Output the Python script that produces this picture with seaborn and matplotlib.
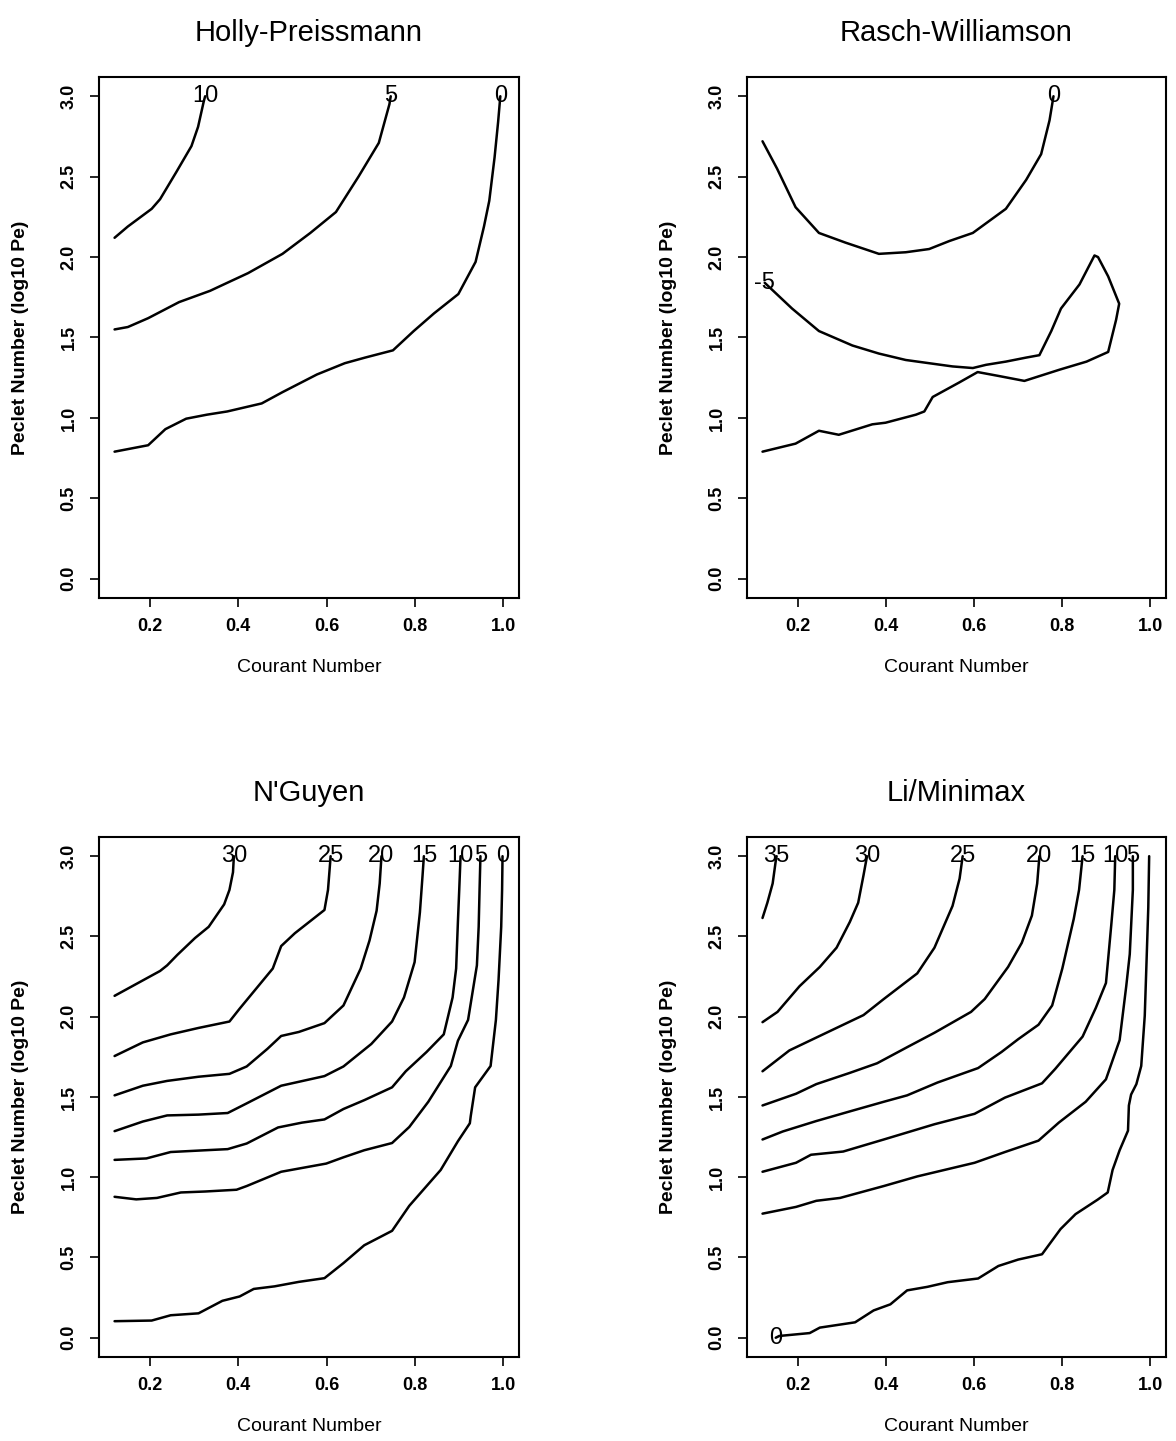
import pandas as pd
import seaborn as sns
import matplotlib.pyplot as plt

# contour lines (Courant number, log10 Peclet)
hp_10_x = [0.12, 0.15, 0.204, 0.223, 0.26, 0.294, 0.309, 0.322, 0.325]
hp_10_y = [2.12, 2.19, 2.30, 2.36, 2.53, 2.69, 2.81, 2.97, 3.0]
hp_5_x = [0.12, 0.15, 0.196, 0.266, 0.336, 0.375, 0.422, 0.50, 0.563, 0.621, 0.672, 0.718, 0.73, 0.742, 0.745]
hp_5_y = [1.55, 1.565, 1.62, 1.72, 1.79, 1.84, 1.90, 2.02, 2.15, 2.28, 2.50, 2.71, 2.83, 2.95, 3.0]
hp_0_x = [0.12, 0.196, 0.235, 0.282, 0.329, 0.375, 0.453, 0.50, 0.578, 0.641, 0.687, 0.75, 0.797, 0.843,
          0.898, 0.937, 0.956, 0.968, 0.98, 0.988, 0.993]
hp_0_y = [0.79, 0.83, 0.93, 0.995, 1.02, 1.04, 1.09, 1.16, 1.27, 1.34, 1.375, 1.42, 1.54, 1.65,
          1.77, 1.97, 2.19, 2.35, 2.62, 2.84, 3.0]

rw_0_x = [0.12, 0.153, 0.195, 0.248, 0.308, 0.384, 0.445, 0.498, 0.544, 0.597, 0.672, 0.718, 0.752, 0.771, 0.78]
rw_0_y = [2.72, 2.55, 2.31, 2.15, 2.09, 2.02, 2.03, 2.05, 2.10, 2.15, 2.30, 2.48, 2.64, 2.85, 3.0]
rw_m5_x = [0.125, 0.187, 0.248, 0.324, 0.384, 0.445, 0.498, 0.551, 0.597, 0.627, 0.672, 0.718, 0.748,
           0.775, 0.797, 0.839, 0.873, 0.881, 0.904, 0.929, 0.922, 0.904, 0.855, 0.794, 0.714, 0.657,
           0.608, 0.566, 0.506, 0.487, 0.468, 0.399, 0.369, 0.293, 0.248, 0.195, 0.12]
rw_m5_y = [1.84, 1.68, 1.54, 1.45, 1.40, 1.36, 1.34, 1.32, 1.31, 1.33, 1.35, 1.375, 1.39,
           1.54, 1.68, 1.83, 2.01, 2.00, 1.88, 1.71, 1.61, 1.41, 1.35, 1.30, 1.23, 1.26,
           1.285, 1.22, 1.13, 1.04, 1.02, 0.97, 0.96, 0.895, 0.92, 0.84, 0.79]

ng_30_x = [0.12, 0.223, 0.239, 0.262, 0.302, 0.333, 0.368, 0.38, 0.388, 0.39]
ng_30_y = [2.13, 2.285, 2.32, 2.385, 2.49, 2.56, 2.70, 2.79, 2.90, 3.0]
ng_25_x = [0.12, 0.184, 0.247, 0.31, 0.38, 0.403, 0.442, 0.478, 0.497, 0.528, 0.595, 0.603, 0.609]
ng_25_y = [1.755, 1.84, 1.89, 1.93, 1.97, 2.05, 2.18, 2.30, 2.44, 2.52, 2.665, 2.79, 3.0]
ng_20_x = [0.12, 0.184, 0.239, 0.31, 0.38, 0.419, 0.466, 0.497, 0.537, 0.595, 0.638, 0.677, 0.697, 0.713, 0.72, 0.724]
ng_20_y = [1.51, 1.57, 1.60, 1.626, 1.644, 1.69, 1.80, 1.88, 1.905, 1.96, 2.07, 2.30, 2.475, 2.66, 2.83, 3.0]
ng_15_x = [0.12, 0.184, 0.239, 0.31, 0.376, 0.419, 0.497, 0.595, 0.638, 0.701, 0.748, 0.775, 0.799, 0.811, 0.817, 0.82]
ng_15_y = [1.287, 1.347, 1.385, 1.39, 1.40, 1.46, 1.57, 1.63, 1.69, 1.83, 1.97, 2.12, 2.34, 2.65, 2.88, 3.0]
ng_10_x = [0.12, 0.192, 0.247, 0.325, 0.376, 0.419, 0.49, 0.544, 0.595, 0.638, 0.685, 0.748, 0.779, 0.826,
           0.865, 0.885, 0.893, 0.897, 0.90, 0.903]
ng_10_y = [1.108, 1.117, 1.157, 1.168, 1.175, 1.21, 1.31, 1.34, 1.36, 1.425, 1.48, 1.56, 1.66, 1.78,
           1.89, 2.12, 2.30, 2.59, 2.79, 3.0]
ng_5_x = [0.12, 0.169, 0.216, 0.27, 0.325, 0.396, 0.419, 0.497, 0.599, 0.638, 0.685, 0.748, 0.787, 0.83,
          0.881, 0.897, 0.92, 0.94, 0.944, 0.946, 0.948]
ng_5_y = [0.878, 0.862, 0.871, 0.905, 0.911, 0.922, 0.945, 1.034, 1.085, 1.124, 1.168, 1.213, 1.313, 1.47,
          1.693, 1.85, 1.98, 2.32, 2.56, 2.79, 3.0]
ng_0_x = [0.12, 0.204, 0.247, 0.31, 0.364, 0.403, 0.435, 0.482, 0.537, 0.595, 0.638, 0.685, 0.748, 0.787,
          0.858, 0.897, 0.924, 0.926, 0.936, 0.971, 0.983, 0.989, 0.995, 0.997, 0.998]
ng_0_y = [0.103, 0.107, 0.14, 0.152, 0.23, 0.257, 0.304, 0.32, 0.348, 0.371, 0.465, 0.576, 0.666, 0.822,
          1.045, 1.224, 1.336, 1.38, 1.56, 1.693, 1.98, 2.23, 2.56, 2.79, 3.0]

lm_35_x = [0.12, 0.131, 0.143, 0.15, 0.152]
lm_35_y = [2.615, 2.71, 2.83, 2.97, 3.0]
lm_30_x = [0.12, 0.154, 0.204, 0.25, 0.288, 0.318, 0.337, 0.349, 0.357]
lm_30_y = [1.966, 2.03, 2.19, 2.31, 2.43, 2.59, 2.71, 2.88, 3.0]
lm_25_x = [0.12, 0.181, 0.242, 0.349, 0.395, 0.471, 0.51, 0.551, 0.567, 0.574]
lm_25_y = [1.66, 1.79, 1.87, 2.01, 2.11, 2.27, 2.43, 2.69, 2.86, 3.0]
lm_20_x = [0.12, 0.196, 0.242, 0.318, 0.38, 0.448, 0.51, 0.593, 0.624, 0.677, 0.708, 0.731, 0.743, 0.748]
lm_20_y = [1.447, 1.52, 1.58, 1.65, 1.71, 1.81, 1.90, 2.03, 2.11, 2.31, 2.46, 2.63, 2.83, 3.0]
lm_15_x = [0.12, 0.166, 0.242, 0.318, 0.395, 0.448, 0.517, 0.609, 0.662, 0.70, 0.746, 0.777, 0.80, 0.826, 0.838, 0.846]
lm_15_y = [1.235, 1.285, 1.35, 1.41, 1.47, 1.51, 1.59, 1.68, 1.78, 1.86, 1.95, 2.07, 2.30, 2.61, 2.79, 3.0]
lm_10_x = [0.12, 0.196, 0.23, 0.303, 0.395, 0.51, 0.601, 0.67, 0.754, 0.784, 0.846, 0.876, 0.899, 0.911, 0.918, 0.92]
lm_10_y = [1.034, 1.09, 1.14, 1.16, 1.235, 1.33, 1.395, 1.496, 1.585, 1.675, 1.876, 2.055, 2.21, 2.57, 2.79, 3.0]
lm_5_x = [0.12, 0.196, 0.242, 0.296, 0.395, 0.471, 0.601, 0.67, 0.746, 0.792, 0.853, 0.899, 0.93, 0.945,
          0.953, 0.96, 0.96]
lm_5_y = [0.773, 0.815, 0.853, 0.871, 0.945, 1.005, 1.09, 1.157, 1.228, 1.34, 1.47, 1.61, 1.854, 2.19,
          2.39, 2.79, 3.0]
lm_0_x = [0.15, 0.158, 0.227, 0.25, 0.33, 0.372, 0.41, 0.448, 0.494, 0.54, 0.609, 0.655, 0.70, 0.754, 0.796,
          0.83, 0.88, 0.903, 0.914, 0.93, 0.949, 0.951, 0.956, 0.968, 0.979, 0.987, 0.991, 0.995, 0.997]
lm_0_y = [0.0, 0.011, 0.029, 0.063, 0.096, 0.17, 0.208, 0.295, 0.317, 0.346, 0.369, 0.447, 0.487, 0.52, 0.677,
          0.77, 0.86, 0.905, 1.045, 1.168, 1.29, 1.447, 1.515, 1.58, 1.693, 2.006, 2.34, 2.68, 3.0]

# (title, [(label, x, y, which end carries the label)])
panels = [
    ("Holly-Preissmann", [("10", hp_10_x, hp_10_y, -1), ("5", hp_5_x, hp_5_y, -1), ("0", hp_0_x, hp_0_y, -1)]),
    ("Rasch-Williamson", [("0", rw_0_x, rw_0_y, -1), ("-5", rw_m5_x, rw_m5_y, 0)]),
    ("N'Guyen", [("30", ng_30_x, ng_30_y, -1), ("25", ng_25_x, ng_25_y, -1), ("20", ng_20_x, ng_20_y, -1),
                 ("15", ng_15_x, ng_15_y, -1), ("10", ng_10_x, ng_10_y, -1), ("5", ng_5_x, ng_5_y, -1),
                 ("0", ng_0_x, ng_0_y, -1)]),
    ("Li/Minimax", [("35", lm_35_x, lm_35_y, -1), ("30", lm_30_x, lm_30_y, -1), ("25", lm_25_x, lm_25_y, -1),
                    ("20", lm_20_x, lm_20_y, -1), ("15", lm_15_x, lm_15_y, -1), ("10", lm_10_x, lm_10_y, -1),
                    ("5", lm_5_x, lm_5_y, -1), ("0", lm_0_x, lm_0_y, 0)]),
]

sns.set_theme(style="ticks")
plt.rcParams['font.family'] = ['Liberation Sans', 'DejaVu Sans']
plt.rcParams['axes.linewidth'] = 1.5
plt.rcParams['axes.edgecolor'] = 'black'
plt.rcParams['xtick.major.size'] = 6.5
plt.rcParams['ytick.major.size'] = 6.5
plt.rcParams['xtick.major.width'] = 1.2
plt.rcParams['ytick.major.width'] = 1.2
plt.rcParams['xtick.color'] = 'black'
plt.rcParams['ytick.color'] = 'black'

fig = plt.figure(figsize=(11.76, 14.41), dpi=100)
boxes = [(0.0842, 0.585, 0.3571, 0.3616), (0.6352, 0.585, 0.3563, 0.3616),
         (0.0842, 0.0583, 0.3571, 0.3609), (0.6352, 0.0583, 0.3563, 0.3609)]

for (title, lines), box in zip(panels, boxes):
    ax = fig.add_axes(box)
    rows = []
    for lab, xs, ys, end in lines:
        for i, (xv, yv) in enumerate(zip(xs, ys)):
            rows.append({"level": lab, "step": i, "x": xv, "y": yv})
    df = pd.DataFrame(rows)
    sns.lineplot(data=df, x="x", y="y", units="level", estimator=None, sort=False,
                 color="black", linewidth=1.8, ax=ax, legend=False)
    for lab, xs, ys, end in lines:
        ax.text(xs[end], ys[end], lab, ha="center", va="center", fontsize=17, color="black")

    ax.set_xlim(0.0848, 1.0352)
    ax.set_ylim(-0.12, 3.12)
    ax.set_xticks([0.2, 0.4, 0.6, 0.8, 1.0])
    ax.set_yticks([0.0, 0.5, 1.0, 1.5, 2.0, 2.5, 3.0])
    ax.set_xticklabels(["0.2", "0.4", "0.6", "0.8", "1.0"], fontsize=13, fontweight="bold")
    ax.set_yticklabels(["0.0", "0.5", "1.0", "1.5", "2.0", "2.5", "3.0"], fontsize=13,
                       fontweight="bold", rotation=90, va="center")
    ax.tick_params(axis="x", pad=8)
    ax.tick_params(axis="y", pad=9)
    ax.set_title(title, fontsize=21, pad=26, color="black")
    ax.set_xlabel("Courant Number", fontsize=14, color="black")
    ax.set_ylabel("Peclet Number (log10 Pe)", fontsize=14, fontweight="bold", color="black")
    ax.xaxis.label.set_va("center")
    ax.xaxis.set_label_coords(0.5, -0.134)
    ax.yaxis.label.set_va("center")
    ax.yaxis.set_label_coords(-0.188, 0.5)

fig.savefig("out.png", dpi=100, facecolor="white")
